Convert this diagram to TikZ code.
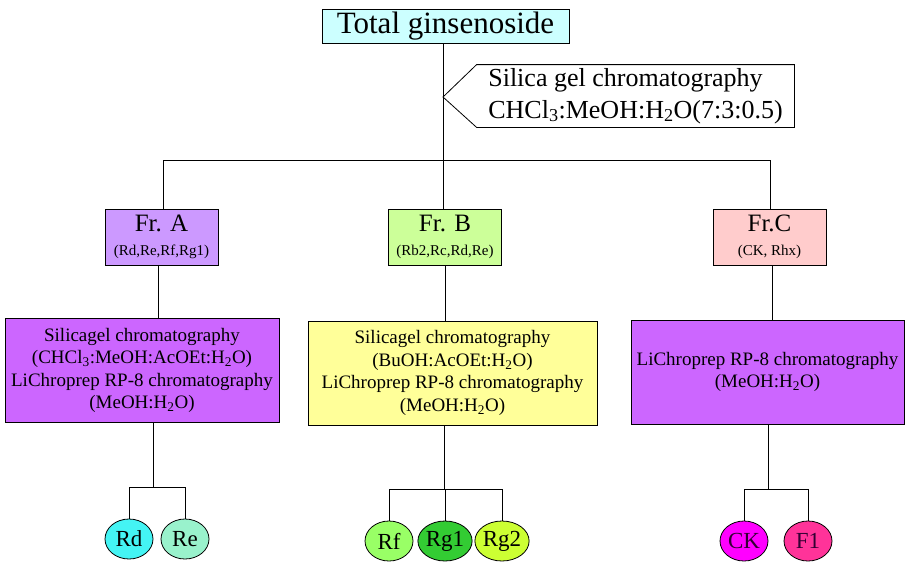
\documentclass[tikz,border=0pt]{standalone}
\usepackage{fontspec}
\setmainfont{Liberation Serif}
\usetikzlibrary{shapes.geometric}
\definecolor{topcyan}{HTML}{CCFFFF}
\definecolor{fraca}{HTML}{CC99FF}
\definecolor{fracb}{HTML}{CCFF99}
\definecolor{fracc}{HTML}{FFCCCC}
\definecolor{purplebox}{HTML}{CC66FF}
\definecolor{yellowbox}{HTML}{FFFF99}
\definecolor{cRd}{HTML}{44F4F4}
\definecolor{cRe}{HTML}{99F2CC}
\definecolor{cRf}{HTML}{99FF66}
\definecolor{cRgone}{HTML}{33CC33}
\definecolor{cRgtwo}{HTML}{CCFF33}
\definecolor{cCK}{HTML}{FF00FF}
\definecolor{cFone}{HTML}{FF3399}
\begin{document}
\begin{tikzpicture}[x=1pt,y=-1pt,line width=0.8pt,
	frbox/.style={draw,inner sep=0pt,minimum width=113,minimum height=56,align=center,font=\fontsize{25}{24}\selectfont},
	procbox/.style={draw,inner sep=0pt,minimum height=104,align=center,font=\fontsize{19}{22.5}\selectfont},
	cpd/.style={draw,ellipse,inner sep=0pt,minimum width=48,minimum height=40,font=\fontsize{23}{23}\selectfont}]
	\useasboundingbox (0,0) rectangle (909,570);
	
	\node[draw,fill=topcyan,inner sep=0pt,minimum width=247,minimum height=34,font=\fontsize{31}{31}\selectfont] (total)at(445.5,26){Total ginsenoside};
	\node[inner sep=0pt,minimum width=317,minimum height=62,align=left,font=\fontsize{26}{32}\selectfont] (cond)at(635.5,96){Silica gel chromatography\\CHCl\textsubscript{3}:MeOH:H\textsubscript{2}O(7:3:0.5)};
	
	\coordinate (tip)at(443,97);
	\coordinate (trunk)at(443,160);
	\coordinate (ja)at(163,160);
	\coordinate (jc)at(770,160);
	
	\node[frbox,fill=fraca] (fa)at(161.5,237){Fr. A\\{\fontsize{15}{15}\selectfont (Rd,Re,Rf,Rg1)}};
	\node[frbox,fill=fracb] (fb)at(445,237){Fr. B\\{\fontsize{15}{15}\selectfont (Rb2,Rc,Rd,Re)}};
	\node[frbox,fill=fracc] (fc)at(769.5,237){Fr.C\\{\fontsize{15}{15}\selectfont (CK, Rhx)}};
	
	\node[procbox,fill=purplebox,minimum width=274] (pa)at(142,370.5){Silicagel chromatography\\(CHCl\textsubscript{3}:MeOH:AcOEt:H\textsubscript{2}O)\\LiChroprep RP-8 chromatography\\(MeOH:H\textsubscript{2}O)};
	\node[procbox,fill=yellowbox,minimum width=289] (pb)at(452.5,373){Silicagel chromatography\\(BuOH:AcOEt:H\textsubscript{2}O)\\LiChroprep RP-8 chromatography\\(MeOH:H\textsubscript{2}O)};
	\node[procbox,fill=purplebox,minimum width=273] (pc)at(767.5,372){LiChroprep RP-8 chromatography\\(MeOH:H\textsubscript{2}O)};
	
	\coordinate (da)at(158,300);
	\coordinate (dc)at(772,300);
	\coordinate (ba)at(153,487);
	\coordinate (bb)at(444,489);
	\coordinate (bc)at(768,489);
	
	\node[cpd,fill=cRd] (rd)at(129,539){Rd};
	\node[cpd,fill=cRe] (re)at(185,539){Re};
	\node[cpd,fill=cRf] (rf)at(389,541){Rf};
	\node[cpd,fill=cRgone] (rg1)at(445,541){Rg1};
	\node[cpd,fill=cRgtwo] (rg2)at(502,541){Rg2};
	\node[cpd,fill=cCK,text=black!60!violet] (ck)at(744,541){CK};
	\node[cpd,fill=cFone,text=black!60!violet] (f1)at(808,541){F1};
	
	% silica gel step
	\draw (cond.north west) -- (cond.north east) -- (cond.south east) -- (cond.south west) -- (tip) -- cycle;
	\draw (total.south -| trunk) -- (trunk);
	\draw (ja) -- (jc);
	\draw (ja) -- (ja |- fa.north);
	\draw (trunk) -- (trunk |- fb.north);
	\draw (jc) -- (jc |- fc.north);
	
	% fractions to columns
	\draw (fa.south -| da) -- (da |- pa.north);
	\draw (fb.south) -- (fb.south |- pb.north);
	\draw (fc.south -| dc) -- (dc |- pc.north);
	
	% columns to compounds
	\draw (pa.south -| ba) -- (ba);
	\draw (rd.north) |- (re.north |- ba) -- (re.north);
	\draw (pb.south -| bb) -- (bb);
	\draw (rf.north) |- (rg2.north |- bb) -- (rg2.north);
	\draw (rg1.north |- bb) -- (rg1.north);
	\draw (pc.south -| bc) -- (bc);
	\draw (ck.north) |- (f1.north |- bc) -- (f1.north);
\end{tikzpicture}
\end{document}
